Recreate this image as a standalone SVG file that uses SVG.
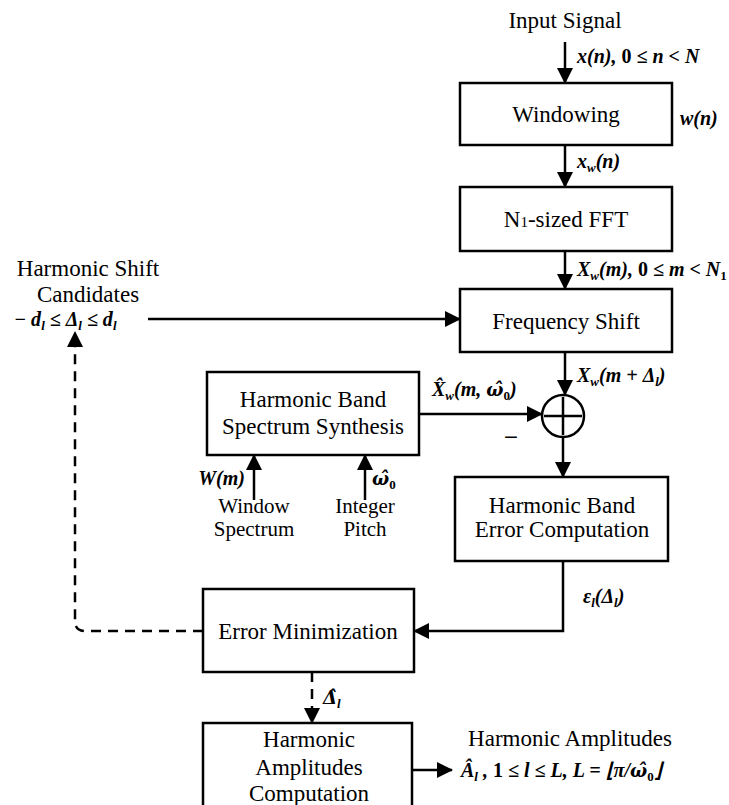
<svg xmlns="http://www.w3.org/2000/svg" width="729" height="805" viewBox="0 0 729 805" font-family="'Liberation Serif', 'Times New Roman', serif">
<style>
.box{fill:#fff;stroke:#000;stroke-width:2.5}
.t{font-family:"Liberation Serif","Times New Roman",serif;font-size:23px;fill:#000;text-anchor:middle}
.t2{font-size:21px}
.m{font-family:"Liberation Serif","Times New Roman",serif;font-size:20px;font-style:italic;font-weight:bold;fill:#000}
.s{font-size:13px}
.u{font-style:normal}
.g{font-family:"DejaVu Serif",serif;font-size:18px}
.c{fill:none;stroke:#000;stroke-width:2.5}
.d{fill:none;stroke:#000;stroke-width:2.5;stroke-dasharray:10,7}
</style>
<defs>
<marker id="ah" markerUnits="userSpaceOnUse" markerWidth="16" markerHeight="16" refX="15" refY="8" orient="auto">
<path d="M0,0 L16,8 L0,16 z" fill="#000"/>
</marker>
</defs>
<rect width="729" height="805" fill="#fff"/>
<g id="connectors">
<path class="c" d="M565,42 L565,83" marker-end="url(#ah)"/>
<path class="c" d="M565,145 L565,187" marker-end="url(#ah)"/>
<path class="c" d="M565,251 L565,289" marker-end="url(#ah)"/>
<path class="c" d="M565,352 L565,395" marker-end="url(#ah)"/>
<path class="c" d="M148,319 L460,319" marker-end="url(#ah)"/>
<path class="c" d="M419,414 L542,414" marker-end="url(#ah)"/>
<path class="c" d="M563,437 L563,477" marker-end="url(#ah)"/>
<path class="c" d="M254,500 L254,455" marker-end="url(#ah)"/>
<path class="c" d="M365,500 L365,455" marker-end="url(#ah)"/>
<path class="c" d="M563,561 L563,631 L414,631" marker-end="url(#ah)"/>
<path class="d" d="M203,631 L85,631 Q75,631 75,621 L75,332" marker-end="url(#ah)"/>
<path class="d" d="M312,672 L312,723" marker-end="url(#ah)"/>
<path class="c" d="M412,770 L452,770" marker-end="url(#ah)"/>
</g>
<g id="input">
<text class="t" x="565" y="28">Input Signal</text>
<text class="m" x="577" y="63">x(n), <tspan class="u">0</tspan> ≤ n &lt; N</text>
</g>
<g id="windowing">
<rect class="box" x="460" y="83" width="212" height="62"/>
<text class="t" x="566" y="122">Windowing</text>
<text class="m" x="680" y="125">w(n)</text>
<text class="m" x="577" y="168">x<tspan class="s" dy="4">w</tspan><tspan dy="-4">(n)</tspan></text>
</g>
<g id="fft">
<rect class="box" x="460" y="187" width="212" height="64"/>
<text class="t" x="566" y="227">N<tspan font-size="15">1</tspan>-sized FFT</text>
<text class="m" x="577" y="276">X<tspan class="s" dy="4">w</tspan><tspan dy="-4">(m), </tspan><tspan class="u">0</tspan> ≤ m &lt; N<tspan class="s u" dy="4">1</tspan></text>
</g>
<g id="candidates">
<text class="t" x="88" y="276">Harmonic Shift</text>
<text class="t" x="88" y="302">Candidates</text>
<text class="m" x="14" y="326">− d<tspan class="s" dy="4">l</tspan><tspan dy="-4"> ≤ Δ</tspan><tspan class="s" dy="4">l</tspan><tspan dy="-4"> ≤ d</tspan><tspan class="s" dy="4">l</tspan></text>
</g>
<g id="freqshift">
<rect class="box" x="460" y="289" width="212" height="63"/>
<text class="t" x="566" y="329">Frequency Shift</text>
<text class="m" x="577" y="382">X<tspan class="s" dy="4">w</tspan><tspan dy="-4">(m + Δ</tspan><tspan class="s" dy="4">l</tspan><tspan dy="-4">)</tspan></text>
</g>
<g id="synthesis">
<rect class="box" x="207" y="372" width="212" height="83"/>
<text class="t" x="313" y="407">Harmonic Band</text>
<text class="t" x="313" y="434">Spectrum Synthesis</text>
<text class="m" x="432" y="396">X̂<tspan class="s" dy="4">w</tspan><tspan dy="-4">(m, </tspan><tspan class="g">ω̂</tspan><tspan class="s u" dy="4">0</tspan><tspan dy="-4">)</tspan></text>
<text class="t" x="511" y="443" font-size="32" font-weight="bold">–</text>
</g>
<g id="sum">
<circle cx="563" cy="416" r="21" fill="#fff" stroke="#000" stroke-width="2.5"/>
<path class="c" d="M563,397 L563,435 M544,416 L582,416"/>
</g>
<g id="window-spectrum">
<text class="m" x="245" y="485" text-anchor="end">W(m)</text>
<text class="t t2" x="254" y="513">Window</text>
<text class="t t2" x="254" y="536">Spectrum</text>
</g>
<g id="pitch">
<text class="m" x="372" y="485"><tspan class="g">ω̂</tspan><tspan class="s u" dy="4">0</tspan></text>
<text class="t t2" x="365" y="513">Integer</text>
<text class="t t2" x="365" y="536">Pitch</text>
</g>
<g id="errcomp">
<rect class="box" x="455" y="477" width="213" height="84"/>
<text class="t" x="562" y="513">Harmonic Band</text>
<text class="t" x="562" y="537">Error Computation</text>
<text class="m" x="583" y="603">ε<tspan class="s" dy="4">l</tspan><tspan dy="-4">(Δ</tspan><tspan class="s" dy="4">l</tspan><tspan dy="-4">)</tspan></text>
</g>
<g id="errmin">
<rect class="box" x="203" y="589" width="211" height="83"/>
<text class="t" x="308" y="639">Error Minimization</text>
<text class="m" x="323" y="704"><tspan class="g">Δ̂</tspan><tspan class="s" dy="4">l</tspan></text>
</g>
<g id="amplitudes">
<rect class="box" x="203" y="723" width="209" height="100"/>
<text class="t" x="309" y="747">Harmonic</text>
<text class="t" x="309" y="775">Amplitudes</text>
<text class="t" x="309" y="801">Computation</text>
</g>
<g id="output">
<text class="t" x="570" y="746">Harmonic Amplitudes</text>
<text class="m" x="461" y="777">Â<tspan class="s" dy="4">l</tspan><tspan dy="-4"> , </tspan><tspan class="u">1</tspan> ≤ l ≤ L, L = ⌊π/<tspan class="g">ω̂</tspan><tspan class="s u" dy="4">0</tspan><tspan dy="-4">⌋</tspan></text>
</g>
</svg>
